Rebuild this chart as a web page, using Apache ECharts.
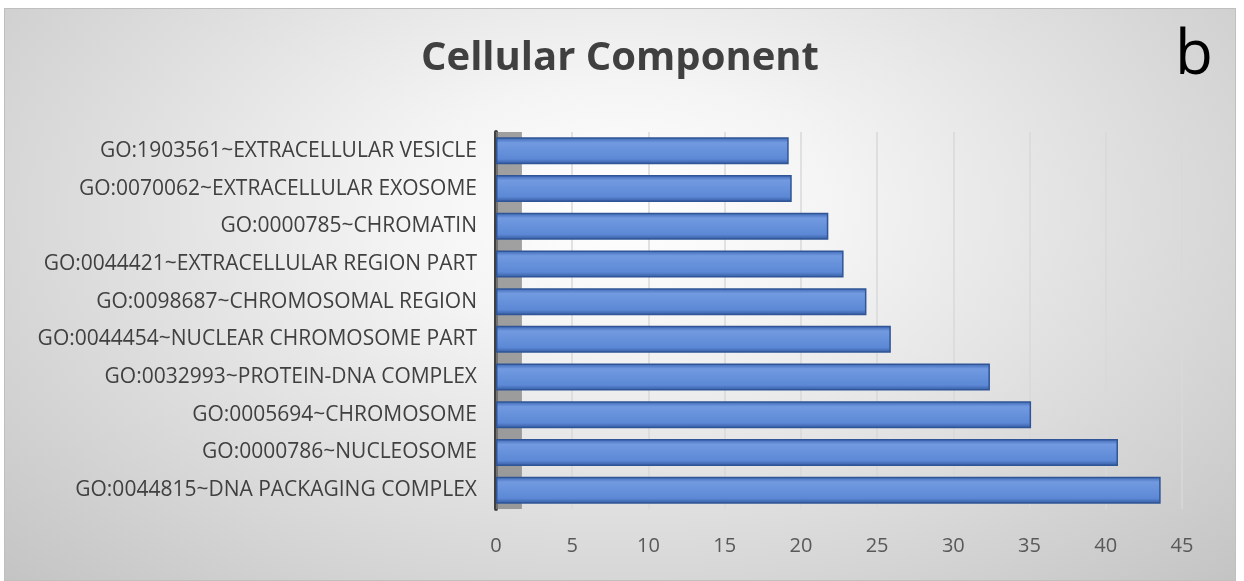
<!DOCTYPE html>
<html>
<head>
<meta charset="utf-8">
<script src="https://cdn.jsdelivr.net/npm/echarts@6/dist/echarts.min.js"></script>
<style>
* { margin: 0; padding: 0; }
body { background: #fff; width: 1244px; height: 581px; overflow: hidden; }
#main {
  position: absolute; left: 4px; top: 8px; width: 1232px; height: 573px;
  border: 1px solid #bfbfbf; box-sizing: border-box;
  background: radial-gradient(ellipse farthest-corner at 50% 35%, #ffffff 0%, #f4f4f4 25%, #c4c4c4 100%);
}
</style>
</head>
<body>
<div id="main"></div>
<script>
// categories, top to bottom as in the picture
var categories = [
  "GO:1903561~EXTRACELLULAR VESICLE",
  "GO:0070062~EXTRACELLULAR EXOSOME",
  "GO:0000785~CHROMATIN",
  "GO:0044421~EXTRACELLULAR REGION PART",
  "GO:0098687~CHROMOSOMAL REGION",
  "GO:0044454~NUCLEAR CHROMOSOME PART",
  "GO:0032993~PROTEIN-DNA COMPLEX",
  "GO:0005694~CHROMOSOME",
  "GO:0000786~NUCLEOSOME",
  "GO:0044815~DNA PACKAGING COMPLEX"
];
var counts = [19.2, 19.4, 21.8, 22.8, 24.3, 25.9, 32.4, 35.1, 40.8, 43.6];
var xTicks = [0, 5, 10, 15, 20, 25, 30, 35, 40, 45];

var chart = echarts.init(document.getElementById("main"));
chart.setOption({
  animation: false,
  title: [{
    text: "Cellular Component",
    left: "center",
    top: 25,
    textStyle: { fontFamily: "Open Sans", fontWeight: "bold", fontSize: 40, color: "#404040" }
  }, {
    text: "b",
    right: 17,
    top: 11,
    textStyle: { fontFamily: "Open Sans", fontWeight: "normal", fontSize: 62, color: "#000" }
  }],
  grid: { left: 491, right: 53, top: 123, bottom: 71 },
  xAxis: {
    type: "value",
    min: xTicks[0],
    max: xTicks[xTicks.length - 1],
    interval: 5,
    axisLine: { show: false },
    axisTick: { show: false },
    splitLine: { lineStyle: { color: "#d9d9d9", width: 1.5 } },
    axisLabel: { margin: 27, fontFamily: "Open Sans", fontSize: 20, color: "#595959" }
  },
  yAxis: {
    type: "category",
    inverse: true,
    data: categories,
    axisLine: { lineStyle: { color: "#404040", width: 4 } },
    axisTick: { show: false },
    axisLabel: { margin: 19, fontFamily: "Open Sans", fontSize: 21, color: "#404040" }
  },
  series: [{
    type: "bar",
    data: counts,
    barWidth: 27,
    itemStyle: {
      color: new echarts.graphic.LinearGradient(0, 0, 0, 1, [
        { offset: 0, color: "#3d66b4" },
        { offset: 0.2, color: "#719ae0" },
        { offset: 0.8, color: "#5c88d5" },
        { offset: 1, color: "#34599f" }
      ]),
      borderColor: "#2f5597",
      borderWidth: 1.5
    },
    markArea: {
      silent: true,
      itemStyle: { color: "rgba(130,130,130,0.75)" },
      data: [[{ xAxis: 0 }, { xAxis: 1.7 }]]
    }
  }]
});
</script>
</body>
</html>
